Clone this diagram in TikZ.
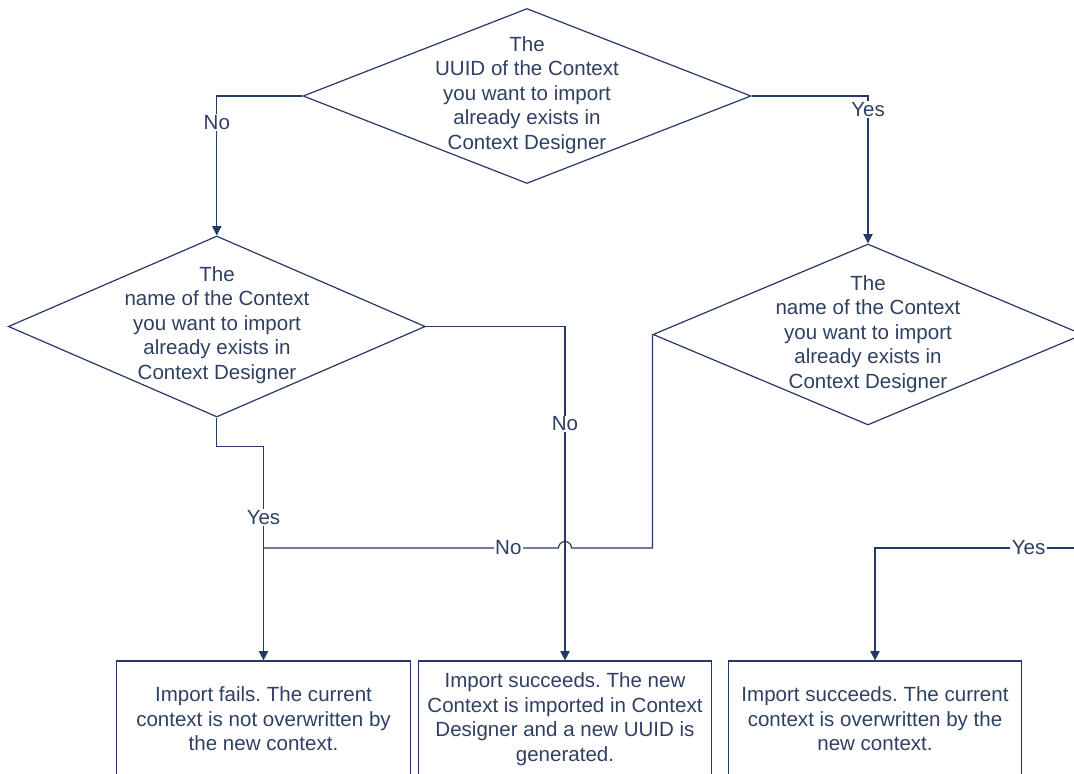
\documentclass[tikz,border=0pt]{standalone}
\usepackage{fontspec}
\setmainfont{Liberation Sans}
\usetikzlibrary{shapes.geometric,arrows.meta}
\definecolor{navyline}{RGB}{36,58,102}
\definecolor{navytext}{RGB}{46,64,98}
\frenchspacing

\begin{document}
\begin{tikzpicture}[x=0.75pt, y=-0.75pt,
    decision/.style={diamond, draw=navyline, line width=0.9pt, inner sep=0pt},
    qtext/.style={align=center, text=navytext, inner sep=0pt, font=\fontsize{15.4}{18.4}\selectfont},
    result/.style={rectangle, draw=navyline, line width=0.9pt, minimum width=220pt, minimum height=87pt, align=center, text=navytext, font=\fontsize{15.4}{18.4}\selectfont},
    wire/.style={draw=navyline, line width=0.9pt},
    flow/.style={wire, -{Triangle[length=7pt,width=7pt]}},
    answer/.style={fill=white, text=navytext, inner sep=1pt, font=\fontsize{15.4}{18.4}\selectfont}]
        \clip (0,0) rectangle (1074,774);

        % Decisions
        \node[decision, minimum width=336pt, minimum height=131.25pt] (uuid) at (527,96) {};
        \node[qtext] (uuidtxt) at (527,95) {The\\UUID of the Context\\you want to import\\already exists in\\Context Designer};

        \node[decision, minimum width=312.75pt, minimum height=135.75pt] (namel) at (216.8,326.5) {};
        \node[qtext] (nameltxt) at (217,325) {The\\name of the Context\\you want to import\\already exists in\\Context Designer};

        \node[decision, minimum width=322.5pt, minimum height=135.75pt] (namer) at (868,334.5) {};
        \node[qtext] (namertxt) at (868,334) {The\\name of the Context\\you want to import\\already exists in\\Context Designer};

        % Outcomes
        \node[result] (failbox) at (263.5,719) {Import fails. The current\\context is not overwritten by\\the new context.};
        \node[result] (newbox) at (565,719) {Import succeeds. The new\\Context is imported in Context\\Designer and a new UUID is\\generated.};
        \node[result] (overbox) at (875,719) {Import succeeds. The current\\context is overwritten by the\\new context.};

        \coordinate (nojoin) at (263.5,548);
        \coordinate (yesturn) at (875,548);

        % Connectors
        \draw[flow] (uuid.west) -| (namel.north) node[answer, pos=0.596] (no1) {No};
        \draw[flow] (uuid.east) -| (namer.north) node[answer, pos=0.547] (yes1) {Yes};
        \draw[flow] (namel.east) -| (newbox.north) node[answer, pos=0.646] (no2) {No};
        \draw[flow] (namel.south) -- ++(0,29) -| (failbox.north) node[answer, pos=0.665] (yes2) {Yes};
        \draw[wire] (namer.west) |- (571.5,548) arc[start angle=0, end angle=-180, radius=6.5] -- (nojoin) node[answer, pos=0.17] (no3) {No};
        \draw[flow] (namer.east) |- (yesturn) node[answer, pos=0.632] (yes3) {Yes} -- (overbox.north);
      \end{tikzpicture}
\end{document}
